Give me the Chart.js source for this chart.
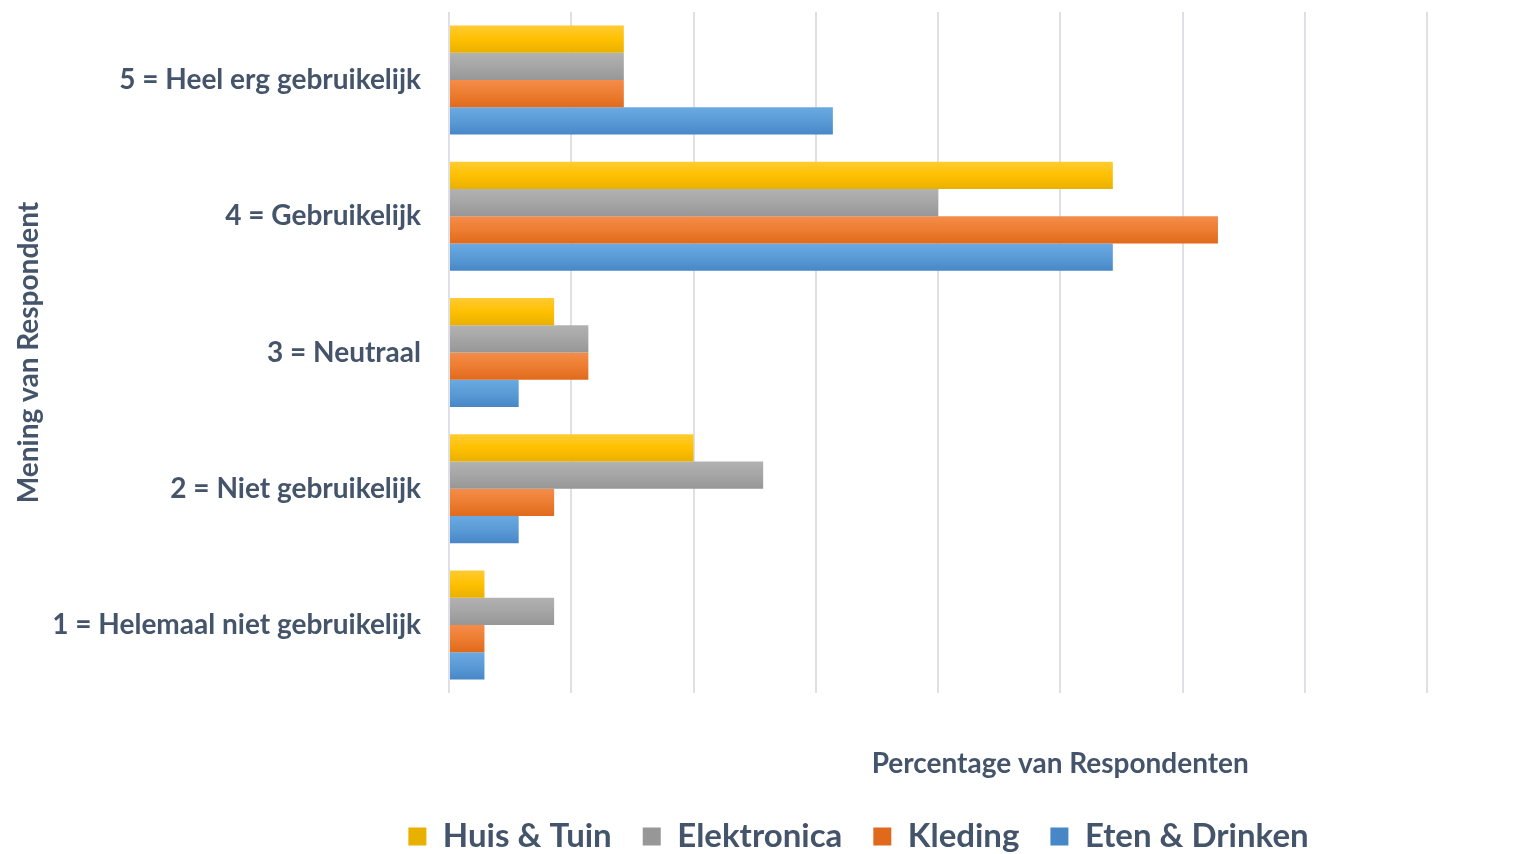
<!DOCTYPE html>
<html>
<head>
<meta charset="utf-8">
<title>Mening van Respondent</title>
<script src="https://cdn.jsdelivr.net/npm/chart.js@4.4.1/dist/chart.umd.min.js"></script>
<style>
  html, body { margin: 0; padding: 0; background: #fff; }
  canvas { display: block; }
</style>
</head>
<body>
<canvas id="chart" width="1531" height="854"></canvas>
<script>
// categories, top to bottom
const categories = [
    '5 = Heel erg gebruikelijk',
    '4 = Gebruikelijk',
    '3 = Neutraal',
    '2 = Niet gebruikelijk',
    '1 = Helemaal niet gebruikelijk'
];

// percentage of respondents per series
const huisTuin    = [14.3, 54.3,  8.6, 20.0, 2.9];
const elektronica = [14.3, 40.0, 11.4, 25.7, 8.6];
const kleding     = [14.3, 62.9, 11.4,  8.6, 2.9];
const etenDrinken = [31.4, 54.3,  5.7,  5.7, 2.9];

const seriesNames = ['Huis & Tuin', 'Elektronica', 'Kleding', 'Eten & Drinken'];

// x axis: no tick labels shown, gridlines every 10
const xMax = 80;
const xStep = 10;

const textColor = '#44546a';
const fontFamily = 'Lato, "Open Sans", sans-serif';

// office style colours, light on top to dark at the bottom of each bar
const colors = [
    { base: '#ffc000', top: '#ffcb33', bottom: '#e8b000' },
    { base: '#a5a5a5', top: '#b2b2b2', bottom: '#979797' },
    { base: '#ed7d31', top: '#f48c4a', bottom: '#e06a1c' },
    { base: '#5b9bd5', top: '#6aa9e2', bottom: '#4787c8' }
];

const catPct = 0.8;

function barFill(c) {
    return function (context) {
        const chart = context.chart;
        const yScale = chart.scales.y;
        if (!chart.chartArea || context.type !== 'data' || !yScale) {
            return c.base;
        }
        const center = yScale.getPixelForValue(context.dataIndex);
        const band = yScale.height / categories.length * catPct;
        const barH = band / seriesNames.length;
        const top = center - band / 2 + context.datasetIndex * barH;
        const g = chart.ctx.createLinearGradient(0, top, 0, top + barH);
        g.addColorStop(0, c.top);
        g.addColorStop(0.5, c.base);
        g.addColorStop(1, c.bottom);
        return g;
    };
}

const values = [huisTuin, elektronica, kleding, etenDrinken];

const datasets = seriesNames.map((name, i) => ({
    label: name,
    data: values[i],
    backgroundColor: barFill(colors[i]),
    borderWidth: 0,
    categoryPercentage: catPct,
    barPercentage: 1.0
}));

// x axis title and legend placement
const extras = {
    id: 'extras',
    afterLayout(chart) {
        chart.legend.left += 139;
        chart.legend.right += 139;
    },
    afterDraw(chart) {
        const ctx = chart.ctx;
        const x = chart.scales.x;
        ctx.save();
        ctx.font = 'bold 28px ' + fontFamily;
        ctx.fillStyle = textColor;
        ctx.textAlign = 'center';
        ctx.textBaseline = 'middle';
        ctx.fillText('Percentage van Respondenten', x.getPixelForValue(50), chart.chartArea.bottom + 71);
        ctx.restore();
    }
};

const ctx = document.getElementById('chart').getContext('2d');

const chart = new Chart(ctx, {
    type: 'bar',
    data: {
        labels: categories,
        datasets: datasets
    },
    options: {
        indexAxis: 'y',
        responsive: false,
        animation: false,
        layout: {
            padding: { left: 12, right: 104, top: 12, bottom: -9 }
        },
        scales: {
            x: {
                min: 0,
                max: xMax,
                ticks: { display: false, stepSize: xStep },
                grid: { color: '#dde1e6', lineWidth: 2, drawTicks: false },
                border: { display: false },
                afterFit(scale) { scale.height = 96; }
            },
            y: {
                ticks: {
                    color: textColor,
                    font: { family: fontFamily, size: 28, weight: 'bold' },
                    padding: 28
                },
                grid: { display: false, drawTicks: false },
                border: { display: false },
                title: {
                    display: true,
                    text: 'Mening van Respondent',
                    color: textColor,
                    font: { family: fontFamily, size: 28, weight: 'bold' },
                    padding: 0
                },
                afterFit(scale) {
                    scale.width = 437;
                    scale.paddingTop = 0;
                    scale.paddingBottom = 0;
                }
            }
        },
        plugins: {
            legend: {
                position: 'bottom',
                labels: {
                    color: textColor,
                    font: { family: fontFamily, size: 33, weight: 'bold' },
                    boxWidth: 18,
                    boxHeight: 18,
                    padding: 31
                }
            },
            tooltip: { enabled: false }
        }
    },
    plugins: [extras]
});
</script>
</body>
</html>
